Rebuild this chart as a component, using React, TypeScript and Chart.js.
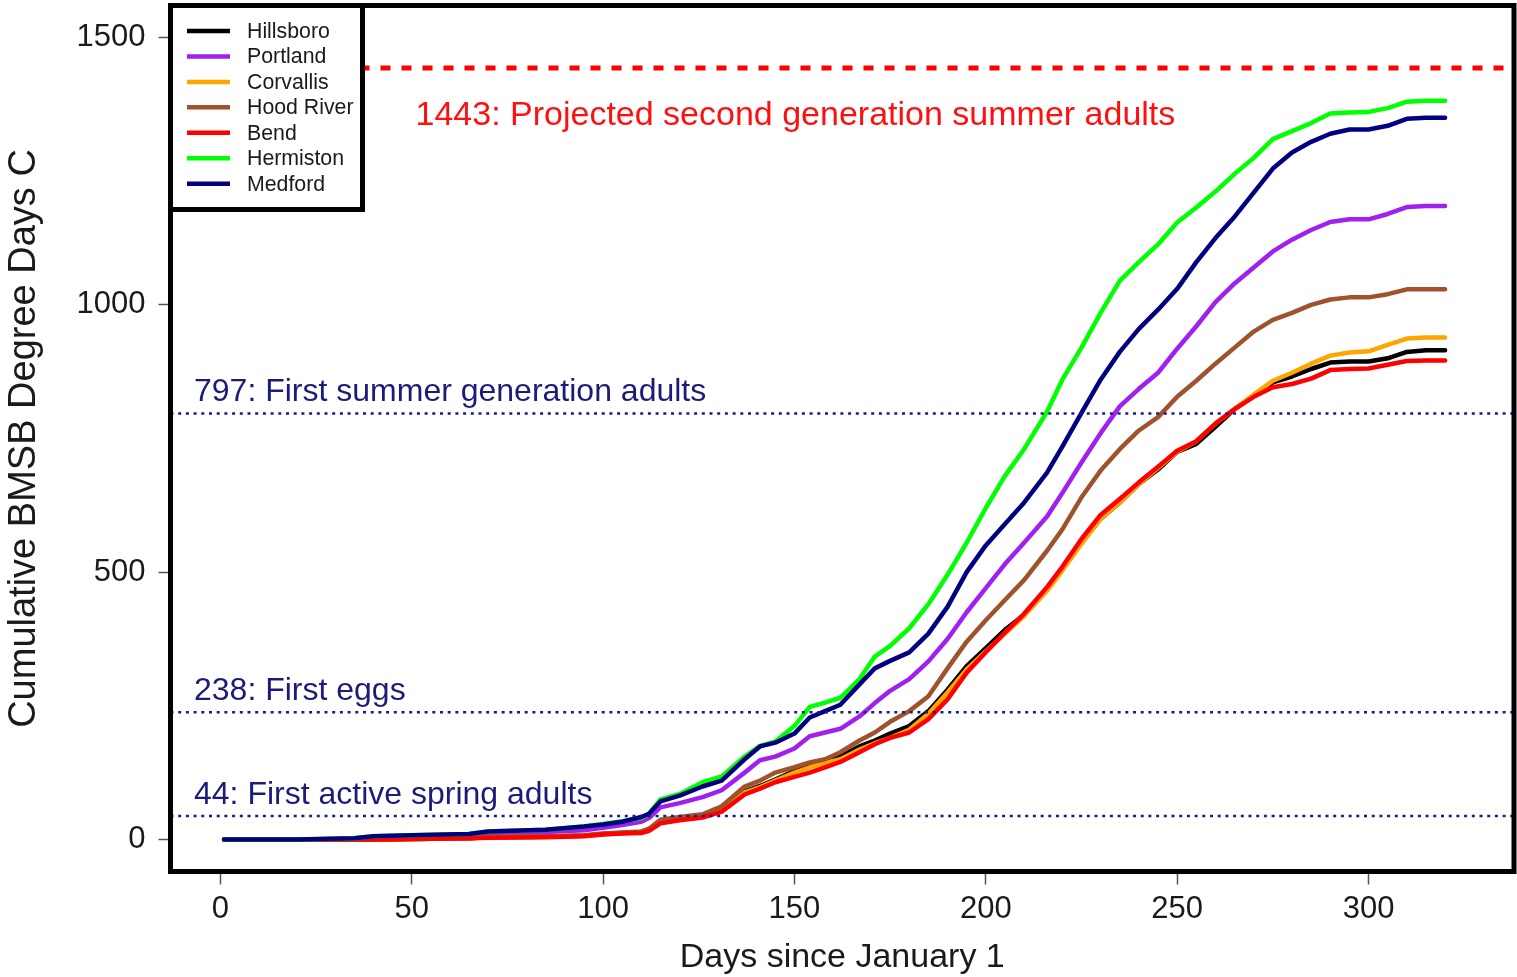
import React, { useEffect, useRef } from "react";
import { Chart, registerables } from "chart.js";

Chart.register(...registerables);

// Days since January 1 at which the cumulative degree days were read
const days = [1, 20, 35, 40, 50, 65, 70, 85, 95, 100, 105, 110, 112, 115, 120, 126, 131, 137, 141, 145, 150, 154, 158, 162, 167, 171, 175, 180, 185, 190, 195, 200, 205, 210, 216, 220, 225, 230, 235, 240, 245, 250, 255, 260, 265, 270, 275, 280, 285, 290, 295, 300, 305, 310, 315, 320];

const hillsboro = [0, 0, 0, 0, 1, 2, 4, 5, 7, 10, 12, 14, 18, 33, 38, 43, 55, 90, 100, 112, 128, 138, 148, 155, 174, 185, 198, 212, 240, 280, 324, 358, 392, 420, 470, 505, 555, 600, 630, 665, 692, 725, 740, 772, 805, 830, 855, 866, 880, 892, 894, 894, 900, 912, 915, 915];
const portland = [0, 0, 1, 3, 4, 7, 10, 14, 17, 22, 27, 33, 40, 60, 68, 79, 92, 125, 148, 155, 170, 193, 200, 207, 230, 255, 278, 300, 333, 375, 425, 470, 515, 555, 604, 648, 705, 760, 810, 843, 873, 918, 960, 1005, 1040, 1070, 1100, 1122, 1140, 1155, 1160, 1160, 1170, 1183, 1185, 1185];
const corvallis = [0, 0, 0, 0, 1, 2, 4, 5, 7, 10, 12, 14, 18, 32, 37, 42, 53, 88, 98, 110, 125, 135, 143, 150, 168, 180, 190, 205, 235, 275, 318, 352, 385, 418, 465, 503, 553, 600, 630, 665, 695, 725, 745, 778, 805, 832, 858, 873, 890, 905, 911, 913, 925, 937, 939, 939];
const hoodRiver = [0, 0, 0, 0, 1, 2, 5, 6, 8, 11, 13, 15, 20, 37, 42, 47, 62, 99, 110, 125, 135, 144, 150, 163, 185, 200, 220, 240, 268, 320, 370, 410, 448, 485, 540, 580, 640, 690, 730, 765, 790, 828, 858, 890, 920, 950, 972, 985, 1000, 1010, 1014, 1014, 1020, 1029, 1029, 1029];
const bend = [0, 0, 0, 0, 1, 2, 3, 4, 6, 9, 11, 12, 16, 30, 36, 41, 52, 84, 95, 107, 117, 125, 135, 145, 163, 178, 190, 200, 225, 262, 312, 350, 387, 422, 472, 510, 562, 607, 637, 668, 697, 727, 745, 778, 805, 828, 846, 852, 862, 878, 880, 881, 888, 895, 896, 896];
const hermiston = [0, 0, 2, 6, 8, 10, 15, 18, 24, 29, 34, 40, 48, 75, 85, 107, 118, 155, 175, 183, 212, 248, 256, 265, 300, 342, 362, 395, 440, 495, 555, 620, 680, 730, 800, 860, 920, 985, 1045, 1080, 1113, 1154, 1182, 1212, 1245, 1275, 1310, 1325, 1340, 1358, 1360, 1361, 1368, 1380, 1382, 1382];
const medford = [0, 0, 2, 6, 8, 10, 15, 18, 24, 28, 33, 42, 48, 71, 82, 99, 110, 150, 174, 181, 198, 228, 240, 252, 290, 320, 334, 350, 385, 435, 500, 550, 590, 630, 686, 735, 798, 860, 912, 955, 991, 1030, 1080, 1125, 1165, 1210, 1255, 1285, 1305, 1320, 1328, 1328, 1335, 1348, 1350, 1350];

const seriesNames = ["Hillsboro", "Portland", "Corvallis", "Hood River", "Bend", "Hermiston", "Medford"];
const seriesValues = [hillsboro, portland, corvallis, hoodRiver, bend, hermiston, medford];
const seriesColors = ["#000000", "#A020F0", "#FFA500", "#A0522D", "#FF0000", "#00FF00", "#000080"];

const thresholdValues = [1443, 797, 238, 44];
const thresholdLabels = [
  "1443: Projected second generation summer adults",
  "797: First summer generation adults",
  "238: First eggs",
  "44: First active spring adults",
];

const xTicks = [0, 50, 100, 150, 200, 250, 300];
const yTicks = [0, 500, 1000, 1500];
const xTitle = "Days since January 1";
const yTitle = "Cumulative BMSB Degree Days C";

const FONT = "'Liberation Sans', Arial, Helvetica, sans-serif";
const NAVY_TEXT = "#1b1b78";

const overlayPlugin = {
  id: "overlay",
  afterDraw(chart: any) {
    const { ctx, chartArea: ca, scales } = chart;
    const ys = scales.y;
    ctx.save();

    // threshold lines
    thresholdValues.forEach((v, i) => {
      const y = ys.getPixelForValue(v);
      ctx.beginPath();
      if (i === 0) {
        ctx.strokeStyle = "#FF0000";
        ctx.lineWidth = 5;
        ctx.setLineDash([10, 11]);
      } else {
        ctx.strokeStyle = "#1c1c80";
        ctx.lineWidth = 2.5;
        ctx.setLineDash([3, 4.7]);
      }
      ctx.moveTo(ca.left, y);
      ctx.lineTo(ca.right, y);
      ctx.stroke();
    });
    ctx.setLineDash([]);

    // threshold labels
    ctx.textBaseline = "middle";
    ctx.textAlign = "left";
    thresholdValues.forEach((v, i) => {
      const y = ys.getPixelForValue(v);
      if (i === 0) {
        ctx.fillStyle = "#FF1010";
        ctx.font = `34px ${FONT}`;
        ctx.fillText(thresholdLabels[i], ca.left + 245, y + 48);
      } else {
        ctx.fillStyle = NAVY_TEXT;
        ctx.font = `32px ${FONT}`;
        ctx.fillText(thresholdLabels[i], ca.left + 23.5, y - 21);
      }
    });

    // legend
    const lx0 = ca.left, ly0 = ca.top, lx1 = 362.5, ly1 = 209.5;
    ctx.fillStyle = "#ffffff";
    ctx.fillRect(lx0, ly0, lx1 - lx0, ly1 - ly0);
    ctx.strokeStyle = "#000000";
    ctx.lineWidth = 5;
    ctx.strokeRect(lx0, ly0, lx1 - lx0, ly1 - ly0);
    ctx.font = `21.3px ${FONT}`;
    ctx.textBaseline = "middle";
    ctx.textAlign = "left";
    chart.data.datasets.forEach((ds: any, i: number) => {
      const y = 31 + i * 25.45;
      ctx.beginPath();
      ctx.strokeStyle = ds.borderColor;
      ctx.lineWidth = 4.5;
      ctx.lineCap = "butt";
      ctx.moveTo(187, y);
      ctx.lineTo(230, y);
      ctx.stroke();
      ctx.fillStyle = "#1a1a1a";
      ctx.fillText(ds.label, 247, y + 1);
    });

    // plot border
    ctx.strokeStyle = "#000000";
    ctx.lineWidth = 5;
    ctx.strokeRect(ca.left, ca.top, ca.right - ca.left, ca.bottom - ca.top);

    // axis titles
    ctx.fillStyle = "#1a1a1a";
    ctx.textAlign = "center";
    ctx.textBaseline = "middle";
    ctx.font = `34px ${FONT}`;
    ctx.fillText(xTitle, (ca.left + ca.right) / 2, 958);
    ctx.save();
    ctx.translate(25, (ca.top + ca.bottom) / 2);
    ctx.rotate(-Math.PI / 2);
    ctx.font = `38px ${FONT}`;
    ctx.fillText(yTitle, 0, 0);
    ctx.restore();

    ctx.restore();
  },
};

export default function App() {
  const canvasRef = useRef<HTMLCanvasElement | null>(null);

  useEffect(() => {
    document.body.style.margin = "0";
    const canvas = canvasRef.current;
    if (!canvas) return;

    const datasets = seriesNames.map((name, i) => ({
      label: name,
      data: days.map((d, k) => ({ x: d, y: seriesValues[i][k] })),
      borderColor: seriesColors[i],
      backgroundColor: seriesColors[i],
      borderWidth: 4.5,
      pointRadius: 0,
      tension: 0,
      fill: false,
      borderJoinStyle: "round" as const,
      borderCapStyle: "round" as const,
      order: seriesNames.length - i,
    }));

    const chart = new Chart(canvas, {
      type: "line",
      data: { datasets },
      options: {
        animation: false,
        responsive: false,
        devicePixelRatio: 1,
        layout: { padding: { left: 0, right: 3, top: 5.5, bottom: 0 } },
        plugins: {
          legend: { display: false },
          tooltip: { enabled: false },
          title: { display: false },
        },
        scales: {
          x: {
            type: "linear",
            min: -13,
            max: 338,
            afterBuildTicks: (s: any) => {
              s.ticks = xTicks.map((v) => ({ value: v }));
            },
            afterFit: (s: any) => {
              s.height = 105.5;
              s.paddingLeft = 0;
              s.paddingRight = 0;
            },
            grid: {
              display: true,
              drawOnChartArea: false,
              drawTicks: true,
              tickLength: 13,
              tickWidth: 1.5,
              tickColor: "#555555",
            },
            border: { display: false },
            ticks: {
              padding: 6,
              color: "#1a1a1a",
              font: { family: FONT, size: 31 },
              maxRotation: 0,
              autoSkip: false,
              callback: (v: any) => String(v),
            },
          },
          y: {
            type: "linear",
            min: -60,
            max: 1560,
            afterBuildTicks: (s: any) => {
              s.ticks = yTicks.map((v) => ({ value: v }));
            },
            afterFit: (s: any) => {
              s.width = 170.5;
              s.paddingTop = 0;
              s.paddingBottom = 0;
            },
            grid: {
              display: true,
              drawOnChartArea: false,
              drawTicks: true,
              tickLength: 12,
              tickWidth: 1.5,
              tickColor: "#555555",
            },
            border: { display: false },
            ticks: {
              padding: 13,
              color: "#1a1a1a",
              font: { family: FONT, size: 31 },
              autoSkip: false,
              callback: (v: any) => String(v),
            },
          },
        },
      },
      plugins: [overlayPlugin],
    });

    return () => {
      chart.destroy();
    };
  }, []);

  return (
    <div style={{ width: 1517, height: 977, background: "#ffffff" }}>
      <canvas ref={canvasRef} width={1517} height={977} style={{ display: "block" }} />
    </div>
  );
}
